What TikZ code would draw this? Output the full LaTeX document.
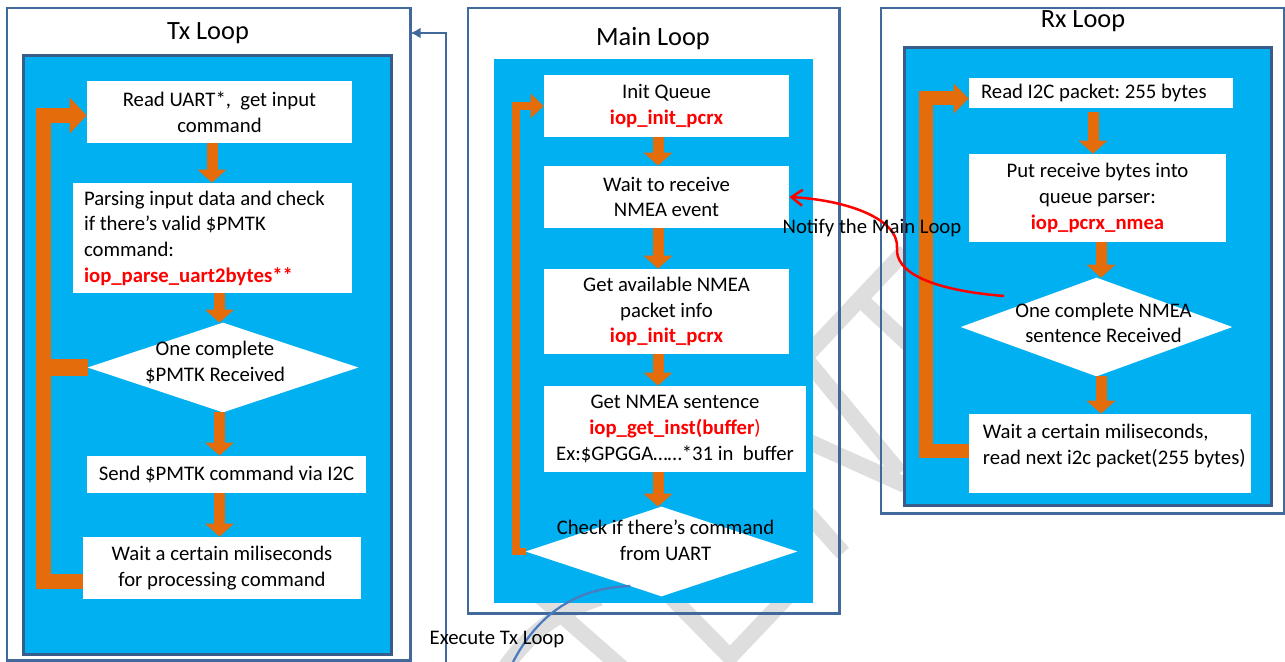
\documentclass[tikz,border=0pt]{standalone}
\usepackage{fontspec}
\setmainfont{Carlito}
\usetikzlibrary{arrows.meta,calc}
\definecolor{frame}{HTML}{41699B}
\definecolor{frameb}{HTML}{385D8A}
\definecolor{skyb}{HTML}{00B0F0}
\definecolor{orng}{HTML}{E46C0A}
\definecolor{redt}{HTML}{FF0000}
\definecolor{curveb}{HTML}{4A7BC0}
\definecolor{wmark}{HTML}{DEDEDE}
\newcommand\codet[1]{{\color{redt}\bfseries #1}}
\frenchspacing
\begin{document}
\begin{tikzpicture}[x=0.02cm,y=-0.02cm,
  every node/.style={font=\fontsize{11.8}{14.6}\selectfont},
  titletext/.style={font=\fontsize{15}{18}\selectfont},
  outerbox/.style={fill=white,inner sep=0,anchor=north west},
  frameline/.style={draw=frame,line width=0.05cm},
  innerbox/.style={draw=frameb,line width=0.065cm,fill=skyb,inner sep=0,anchor=north west},
  innerplain/.style={fill=skyb,inner sep=0,anchor=north west},
  procbox/.style={fill=white,inner sep=0,align=center},
  leftbox/.style={fill=white,inner ysep=0,align=flush left},
  diabox/.style={inner sep=0},
  wmband/.style={draw=wmark,line width=0.32cm},
  down/.style={draw=orng,line width=0.22cm,-{Triangle[width=0.56cm,length=0.26cm,fill=orng]}},
  txloop/.style={draw=orng,line width=0.3cm,line join=miter,-{Triangle[width=0.7cm,length=0.34cm,fill=orng]}},
  mloop/.style={draw=orng,line width=0.15cm,line join=miter,-{Triangle[width=0.48cm,length=0.26cm,fill=orng]}},
  rxloop/.style={draw=orng,line width=0.28cm,line join=miter,-{Triangle[width=0.58cm,length=0.3cm,fill=orng]}},
  armline/.style={draw=orng},
  notify/.style={draw=redt,line width=0.05cm,-{Straight Barb[length=0.22cm,width=0.32cm]}},
  execline/.style={draw=frame,line width=0.05cm,-{Latex[length=0.2cm,width=0.22cm]}},
  execcurve/.style={draw=curveb,line width=0.045cm}
]
\useasboundingbox (0,0) rectangle (1285,662);
\fill[white] (0,0) rectangle (1285,662);

% ---------------- frames (white ground) ----------------
\node[outerbox,minimum width=8.06cm,minimum height=13.04cm] (txo) at (7,8) {};
\node[outerbox,minimum width=7.42cm,minimum height=12.10cm] (mo) at (468,8) {};
\node[outerbox,minimum width=8.06cm,minimum height=10.10cm] (rxo) at (881,8) {};

% ---------------- watermark fragments ----------------
\begin{scope}
\clip (0,0) rectangle (1285,662);
\draw[wmband] (905,251) -- (808,354);
\draw[wmband] (860,299) -- (918,353);
\draw[wmband] (805,358) -- (900,473);
\draw[wmband] (805,440) -- (905,485);
\draw[wmband] (800,505) -- (843,553);
\draw[wmband] (505,668) .. controls (530,632) and (560,610) .. (600,598);
\draw[wmband] (540,596) -- (622,668);
\draw[wmband] (672,598) -- (730,657) -- (786,598);
\end{scope}

\draw[frameline] (txo.north west) rectangle (txo.south east);
\draw[frameline] (mo.north west) rectangle (mo.south east);
\draw[frameline] (rxo.north west) rectangle (rxo.south east);

\node[innerbox,minimum width=7.36cm,minimum height=11.98cm] (txi) at (22,54) {};
\node[innerplain,minimum width=6.38cm,minimum height=10.88cm] (mi) at (494,59) {};
\node[innerbox,minimum width=7.34cm,minimum height=9.16cm] (rxi) at (903,46) {};

\node[titletext] (txt) at (208,33) {Tx Loop};
\node[titletext] (mt) at (653,39) {Main Loop};
\node[titletext] (rxt) at (1083,21) {Rx Loop};

% ---------------- Tx loop ----------------
\node[procbox,minimum width=5.30cm,minimum height=1.24cm] (t1) at (219.5,112) {Read UART*,\ \ get input\\command};
\node[leftbox,inner xsep=0.22cm,text width=5.14cm,minimum height=2.20cm] (t2) at (212.5,238)
  {Parsing input data and check\\if there’s valid \$PMTK\\command:\\\codet{iop\_parse\_uart2bytes**}};
\node[diabox,minimum width=5.40cm,minimum height=1.78cm] (t3) at (223,367.5) {};
\fill[white] (t3.north) -- (t3.east) -- (t3.south) -- (t3.west) -- cycle;
\node[align=center] (t3l) at ($(t3)+(-8,-5)$) {One complete\\\$PMTK Received};
\node[procbox,minimum width=5.58cm,minimum height=0.74cm] (t4) at (226.5,474.5) {Send \$PMTK command via I2C};
\node[procbox,minimum width=5.56cm,minimum height=1.24cm] (t5) at (222,568) {Wait a certain miliseconds\\for processing command};

\coordinate (ax1) at (212,0);
\coordinate (ax2) at (219.5,0);
\draw[down] (t1.south -| ax1) -- (t2.north -| ax1);
\draw[down] (t2.south -| ax2) -- (t3.north -| ax2);
\draw[down] (t3.south -| ax2) -- (t4.north -| ax2);
\draw[down] (t4.south -| ax2) -- (t5.north -| ax2);

\coordinate (txbar) at (43.5,0);
\coordinate (ta) at ($(t5.west)+(0,13)$);
\coordinate (tb) at ($(t1.west)+(0,3.5)$);
\draw[txloop] (ta) -- (ta -| txbar) |- (tb);
\coordinate (tc) at (36,0);
\draw[armline,line width=0.34cm] (t3.west) -- (t3.west -| tc);

% ---------------- Main loop ----------------
\node[procbox,minimum width=4.90cm,minimum height=1.24cm] (m1) at (666.5,106) {Init Queue\\\codet{iop\_init\_pcrx}};
\node[procbox,minimum width=4.90cm,minimum height=1.24cm] (m2) at (666.5,197) {Wait to receive\\NMEA event};
\node[procbox,minimum width=4.90cm,minimum height=1.70cm] (m3) at (666.5,311.5) {Get available NMEA\\packet info\\\codet{iop\_init\_pcrx}};
\node[procbox,minimum width=5.24cm,minimum height=1.72cm] (m4) at (675,429)
  {Get NMEA sentence\\\codet{iop\_get\_inst(buffer}{\color{redt})}\\Ex:\$GPGGA……*31 in\ \ buffer};
\node[diabox,minimum width=5.42cm,minimum height=1.78cm] (m5) at (661.5,551.5) {};
\fill[white] (m5.north) -- (m5.east) -- (m5.south) -- (m5.west) -- cycle;
\node[align=center] (m5l) at ($(m5)+(4,-11)$) {Check if there’s command\\from UART};

\coordinate (mx) at (658,0);
\draw[down] (m1.south -| mx) -- (m2.north -| mx);
\draw[down] (m2.south -| mx) -- (m3.north -| mx);
\draw[down] (m3.south -| mx) -- (m4.north -| mx);
\draw[down] (m4.south -| mx) -- (m5.north -| mx);

\coordinate (mbar) at (516,0);
\draw[mloop] (m5.west) -- (m5.west -| mbar) |- (m1.west);

% ---------------- Rx loop ----------------
\node[leftbox,inner xsep=0.24cm,text width=4.80cm,minimum height=0.60cm] (r1) at (1101,93) {Read I2C packet: 255 bytes};
\node[procbox,minimum width=5.14cm,minimum height=1.76cm] (r2) at (1097.5,198) {Put receive bytes into\\queue parser:\\\codet{iop\_pcrx\_nmea}};
\node[diabox,minimum width=5.42cm,minimum height=1.96cm] (r3) at (1096.5,327) {};
\fill[white] (r3.north) -- (r3.east) -- (r3.south) -- (r3.west) -- cycle;
\node[align=center] (r3l) at ($(r3)+(7,-4)$) {One complete NMEA\\sentence Received};
\node[procbox,minimum width=5.64cm,minimum height=1.58cm] (r4) at (1110,453.5) {};
\node[align=flush left,anchor=west] (r4l) at ($(r4.west)+(8,-7.5)$) {Wait a certain miliseconds,\\read next i2c packet(255 bytes)};

\coordinate (rx1) at (1093,0);
\coordinate (rx2) at (1101,0);
\draw[down] (r1.south -| rx1) ++(0,4) -- (r2.north -| rx1);
\draw[down] (r2.south -| rx2) -- (r3.north -| rx2);
\draw[down] (r3.south -| rx2) -- (r4.north -| rx2);

\coordinate (rbar) at (925.5,0);
\coordinate (ra) at ($(r4.west)+(0,-3)$);
\coordinate (rb) at ($(r1.west)+(0,5.5)$);
\draw[rxloop] (ra) -- (ra -| rbar) |- (rb);

% ---------------- cross connectors ----------------
\coordinate (nstart) at (1004,296);
\draw[notify] (nstart) .. controls (930,290) and (895,272) .. (897,248)
  .. controls (899,218) and (845,200) .. (m2.east);
\node (notl) at (872,228) {Notify the Main Loop};

\coordinate (exb) at (446,662);
\coordinate (exTop) at (446,33);
\draw[execline] (exb) -- (exTop) -- (exTop -| txo.east);

\coordinate (exc) at (513,662);
\draw[execcurve] ($(m5.south)!0.23!(m5.west)$) .. controls (570,588) and (535,620) .. (exc);
\node (exl) at (497,640) {Execute Tx Loop};
\end{tikzpicture}
\end{document}
